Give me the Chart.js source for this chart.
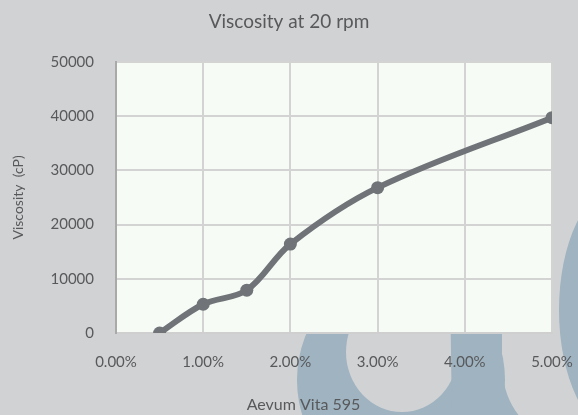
<!DOCTYPE html>
<html>
<head>
<meta charset="utf-8">
<script src="https://cdn.jsdelivr.net/npm/chart.js@4"></script>
<style>
  html, body { margin: 0; padding: 0; background: #d1d2d4; }
  canvas { display: block; }
</style>
</head>
<body>
<canvas id="myChart" width="578" height="415"></canvas>
<script>
// percent of Aevum Vita 595, viscosity in cP
const concentrations = [0.5, 1.0, 1.5, 2.0, 3.0, 5.0];
const viscosity = [0, 5300, 7900, 16400, 26800, 39700];
const xTickLabels = ['0.00%', '1.00%', '2.00%', '3.00%', '4.00%', '5.00%'];
const yTickValues = [0, 10000, 20000, 30000, 40000, 50000];

const textColor = '#58595b';
const lineColor = '#707377';
const pageColor = '#d1d2d4';
const brandColor = '#9fb3c0';

// the big logo letters peeking out under the plot (decoration only)
function drawLogo(ctx) {
  ctx.fillStyle = brandColor;
  ctx.beginPath();
  ctx.ellipse(401, 380, 104, 112, 0, 0, Math.PI * 2);
  ctx.fill();
  ctx.fillStyle = pageColor;
  ctx.beginPath();
  ctx.ellipse(402, 352, 56, 60, 0, 0, Math.PI * 2);
  ctx.fill();
  ctx.fillStyle = brandColor;
  ctx.beginPath();
  ctx.moveTo(450, 280);
  ctx.lineTo(502, 280);
  ctx.lineTo(502, 370);
  ctx.quadraticCurveTo(505, 405, 528, 425);
  ctx.lineTo(452, 425);
  ctx.closePath();
  ctx.fill();
  // next letter, cut by the right edge
  ctx.beginPath();
  ctx.ellipse(619, 310, 60, 123, 0, 0, Math.PI * 2);
  ctx.fill();
}

const backdrop = {
  id: 'backdrop',
  beforeDraw(chart) {
    const ctx = chart.ctx;
    const area = chart.chartArea;
    ctx.save();
    drawLogo(ctx);
    ctx.fillStyle = '#f6fbf5';
    ctx.fillRect(area.left, area.top, area.right - area.left, area.bottom - area.top);
    ctx.restore();
  },
  afterDraw(chart) {
    const ctx = chart.ctx;
    const area = chart.chartArea;
    ctx.save();
    ctx.fillStyle = textColor;
    ctx.font = '16px Lato';
    ctx.textAlign = 'center';
    ctx.textBaseline = 'middle';
    ctx.fillText('Aevum Vita 595', area.left + (area.right - area.left) * 0.43, 405);
    ctx.restore();
  }
};

Chart.defaults.font.family = "Lato, 'Open Sans', sans-serif";
Chart.defaults.color = textColor;

const ctx = document.getElementById('myChart').getContext('2d');
const myChart = new Chart(ctx, {
  type: 'line',
  data: {
    datasets: [{
      label: 'Viscosity',
      data: concentrations.map((c, i) => ({ x: c, y: viscosity[i] })),
      borderColor: lineColor,
      backgroundColor: lineColor,
      pointBackgroundColor: lineColor,
      pointBorderWidth: 0,
      pointRadius: 6.5,
      borderWidth: 6,
      tension: 0.35,
      fill: false
    }]
  },
  options: {
    responsive: false,
    animation: false,
    layout: { padding: { top: 6, right: 0, bottom: 0, left: 0 } },
    plugins: {
      legend: { display: false },
      tooltip: { enabled: false },
      title: {
        display: true,
        text: 'Viscosity at 20 rpm',
        color: textColor,
        font: { size: 19, weight: 'normal' },
        padding: { top: 4, bottom: 29 }
      }
    },
    scales: {
      x: {
        type: 'linear',
        min: 0,
        max: 5,
        afterBuildTicks(scale) {
          scale.ticks = xTickLabels.map((_, i) => ({ value: i }));
        },
        afterFit(scale) {
          scale.height = 82;
          scale.paddingLeft = 0;
          scale.paddingRight = 26;
        },
        ticks: {
          padding: 20,
          font: { size: 15 },
          color: textColor,
          callback: (v, i) => xTickLabels[i]
        },
        grid: { color: '#d3d3d3', lineWidth: 2, drawTicks: false },
        border: { color: '#cfcfcf', width: 2 }
      },
      y: {
        min: 0,
        max: 50000,
        afterBuildTicks(scale) {
          scale.ticks = yTickValues.map(v => ({ value: v }));
        },
        afterFit(scale) { scale.width = 116; },
        ticks: {
          padding: 22,
          font: { size: 15 },
          color: textColor,
          callback: v => String(v)
        },
        title: {
          display: true,
          text: 'Viscosity  (cP)',
          color: textColor,
          font: { size: 14 },
          padding: { top: 10, bottom: 0 }
        },
        grid: { color: '#d3d3d3', lineWidth: 2, drawTicks: false },
        border: { color: '#a9a9a9', width: 2 }
      }
    }
  },
  plugins: [backdrop]
});
</script>
</body>
</html>
